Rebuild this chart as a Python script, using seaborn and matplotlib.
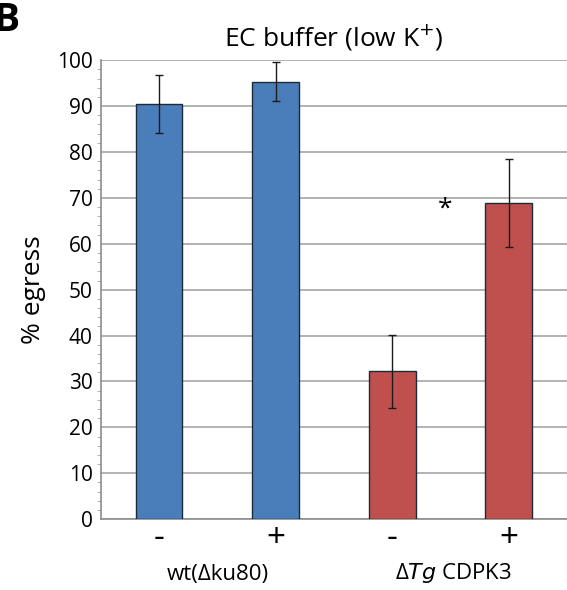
import numpy as np
import pandas as pd
import matplotlib
matplotlib.use("Agg")
import matplotlib.pyplot as plt
import seaborn as sns
from matplotlib.ticker import MultipleLocator

strains = ["wt", "wt", "cdpk3", "cdpk3"]
treatment = ["-", "+", "-", "+"]
egress = [90.5, 95.3, 32.2, 68.8]
err = [6.3, 4.2, 7.9, 9.6]
bar_colors = ["#4a7ebb", "#4a7ebb", "#c0504d", "#c0504d"]

df = pd.DataFrame({
    "bar": [f"{s} {t}" for s, t in zip(strains, treatment)],
    "egress": egress,
    "err": err,
})

sns.set_style("white")
plt.rcParams["font.family"] = ["Open Sans", "DejaVu Sans"]
plt.rcParams["text.color"] = "black"
plt.rcParams["axes.labelcolor"] = "black"
plt.rcParams["xtick.color"] = "black"
plt.rcParams["ytick.color"] = "black"

fig = plt.figure(figsize=(5.67, 5.9), dpi=100)
ax = fig.add_axes([0.178, 0.12, 0.822, 0.778])

sns.barplot(data=df, x="bar", y="egress", hue="bar", palette=bar_colors,
            saturation=1, width=0.4, edgecolor="#1c2a3a", linewidth=1.0,
            legend=False, errorbar=None, ax=ax, zorder=3)
ax.errorbar(np.arange(len(df)), df["egress"], yerr=df["err"], fmt="none",
            ecolor="#1a1a1a", elinewidth=1.0, capsize=3, capthick=1.0, zorder=4)

ax.set_ylim(0, 100)
ax.set_xlim(-0.5, 3.5)
ax.yaxis.set_major_locator(MultipleLocator(10))
ax.yaxis.set_minor_locator(MultipleLocator(2))
ax.grid(axis="y", color="#a6a6a6", linewidth=1.2, zorder=0)
ax.set_axisbelow(True)

for side in ["top", "right"]:
    ax.spines[side].set_visible(False)
ax.spines["left"].set_color("#8c8c8c")
ax.spines["bottom"].set_color("#8c8c8c")
ax.spines["left"].set_linewidth(1.2)
ax.spines["bottom"].set_linewidth(1.2)

ax.tick_params(axis="y", which="major", length=4, color="#8c8c8c", labelsize=15, pad=2)
ax.tick_params(axis="y", which="minor", length=3, color="#a6a6a6", left=True)
ax.tick_params(axis="x", length=0, labelsize=24, pad=2)
ax.set_xticks(range(len(df)))
ax.set_xticklabels(treatment)

ax.set_xlabel("")
ax.set_ylabel("% egress", fontsize=19, labelpad=8)
ax.set_title("EC buffer (low K$^{+}$)", fontsize=19, pad=10)

ax.text(2.45, 67.5, "*", ha="center", va="center", fontsize=19)

fig.text(0.385, 0.008, "wt(\u0394ku80)", ha="center", va="bottom", fontsize=16)
fig.text(0.80, 0.008, "\u0394$\\it{Tg}$ CDPK3", ha="center", va="bottom", fontsize=16)
fig.text(-0.012, 0.998, "B", ha="left", va="top", fontsize=28, weight="bold")

fig.savefig("out.png", dpi=100)
